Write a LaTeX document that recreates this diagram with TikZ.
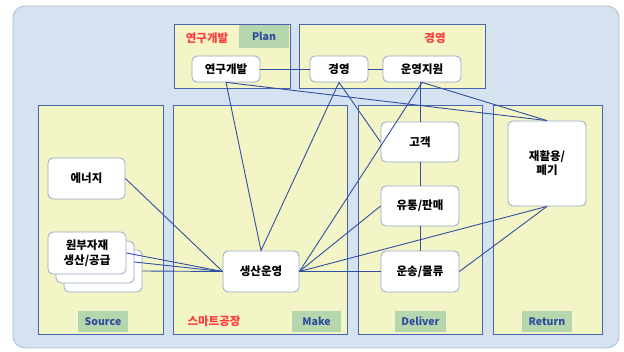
\documentclass[tikz,border=0pt]{standalone}
\usepackage{fontspec}
\setmainfont{Noto Sans CJK KR}[BoldFont={Noto Sans CJK KR Black}]
\definecolor{outerbg}{HTML}{D5E3F0}
\definecolor{outerbd}{HTML}{A9BDD1}
\definecolor{colfill}{HTML}{F4F5C6}
\definecolor{colbd}{HTML}{4863AE}
\definecolor{lblgreen}{HTML}{B6D6AE}
\definecolor{lbltext}{HTML}{2F4B9C}
\definecolor{redtext}{HTML}{FF3B3B}
\definecolor{nodebd}{HTML}{94A8C2}
\definecolor{linkc}{HTML}{2F4FA3}
\begin{document}
\begin{tikzpicture}[x=1pt,y=-1pt,
  col/.style={draw=colbd,fill=colfill,line width=1pt},
  lbl/.style={fill=lblgreen,text=lbltext,font=\fontsize{10.5}{12}\selectfont\bfseries,inner sep=0pt,anchor=center},
  redlbl/.style={text=redtext,font=\fontsize{11.5}{13}\selectfont\bfseries,inner sep=0pt},
  box/.style={draw=nodebd,fill=white,rounded corners=5pt,line width=0.8pt,font=\fontsize{11.5}{14}\selectfont\bfseries,align=center,inner sep=1pt},
  link/.style={draw=linkc,line width=0.9pt}]
\useasboundingbox (0,0) rectangle (624,352);
\draw[fill=outerbg,draw=outerbd,line width=0.8pt,rounded corners=12pt] (13,6) rectangle (619,348);
% upper containers
\draw[col] (174,25) rectangle (290,89);
\draw[col] (299,25) rectangle (485,89);
% lower columns
\draw[col] (38,106) rectangle (163,335);
\draw[col] (173,106) rectangle (347,335);
\draw[col] (358,106) rectangle (482,335);
\draw[col] (493,106) rectangle (602,335);
% labels
\node[lbl,minimum width=50pt,minimum height=23pt] (lplan) at (264,36.5) {Plan};
\node[redlbl] (lrd) at (207,38) {연구개발};
\node[redlbl] (lgy) at (435,38) {경영};
\node[lbl,minimum width=50pt,minimum height=21pt] (lsrc) at (103,321.5) {Source};
\node[lbl,minimum width=49pt,minimum height=21pt] (lmake) at (316.5,321.5) {Make};
\node[lbl,minimum width=51pt,minimum height=21pt] (ldel) at (420.5,321.5) {Deliver};
\node[lbl,minimum width=50pt,minimum height=21pt] (lret) at (547,321.5) {Return};
\node[redlbl] (lsf) at (214,321) {스마트공장};
% nodes
\node[box,minimum width=68pt,minimum height=26pt] (rd) at (226,69) {연구개발};
\node[box,minimum width=58pt,minimum height=26pt] (gy) at (339,69) {경영};
\node[box,minimum width=78pt,minimum height=26pt] (uy) at (422,69) {운영지원};
\node[box,minimum width=77pt,minimum height=41pt] (en) at (86.5,178.5) {에너지};
\node[box,minimum width=78pt,minimum height=42pt] (raw3) at (103,271) {};
\node[box,minimum width=78pt,minimum height=42pt] (raw2) at (95,262) {};
\node[box,minimum width=78pt,minimum height=42pt] (raw1) at (87,253) {원부자재\\[1pt]생산/공급};
\node[box,minimum width=76pt,minimum height=41pt] (sp) at (261,271.5) {생산운영};
\node[box,minimum width=78pt,minimum height=40pt] (gg) at (420,142) {고객};
\node[box,minimum width=78pt,minimum height=40pt] (ut) at (420,206) {유통/판매};
\node[box,minimum width=78pt,minimum height=41pt] (us) at (420,271.5) {운송/물류};
\node[box,minimum width=78pt,minimum height=85pt] (re) at (547,163.5) {재활용/\\[0pt]폐기};
% connectors
\draw[link] (rd) -- (gy);
\draw[link] (gy) -- (uy);
\draw[link] (rd.south) -- (sp.north);
\draw[link] (rd.south) -- (re.north);
\draw[link] (gy.south) -- (sp.north);
\draw[link] (gy.south) -- (gg.west);
\draw[link] (uy.south) -- (sp.east);
\draw[link] (uy.south -| gg.north) -- (gg.north);
\draw[link] (uy.south) -- (re.north);
\draw[link] (gg) -- (ut);
\draw[link] (ut) -- (us);
\draw[link] (sp.east) -- (ut.west);
\draw[link] (sp.east) -- (re.south);
\draw[link] (sp.east) -- (us.west);
\draw[link] (us.east) -- (re.south);
\draw[link] (en.east) -- (sp.west);
\draw[link] (raw1.east) -- (sp.west);
\draw[link] (raw2.east) -- (sp.west);
\draw[link] (raw3.east) -- (sp.west);
\end{tikzpicture}
\end{document}
